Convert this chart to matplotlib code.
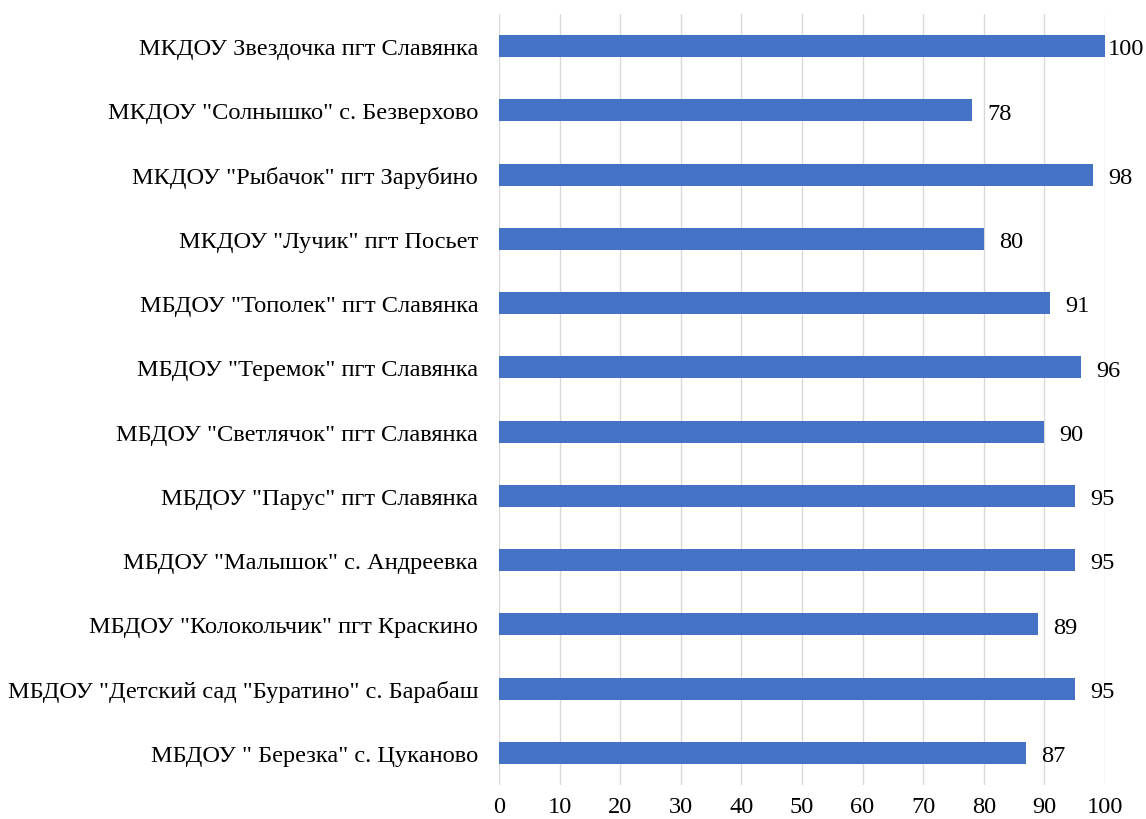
import matplotlib.pyplot as plt

labels = [
    'МКДОУ Звездочка пгт Славянка',
    'МКДОУ "Солнышко" с. Безверхово',
    'МКДОУ "Рыбачок" пгт Зарубино',
    'МКДОУ "Лучик" пгт Посьет',
    'МБДОУ "Тополек" пгт Славянка',
    'МБДОУ "Теремок" пгт Славянка',
    'МБДОУ "Светлячок" пгт Славянка',
    'МБДОУ "Парус" пгт Славянка',
    'МБДОУ "Малышок" с. Андреевка',
    'МБДОУ "Колокольчик" пгт Краскино',
    'МБДОУ "Детский сад "Буратино" с. Барабаш',
    'МБДОУ " Березка" с. Цуканово',
]
values = [100, 78, 98, 80, 91, 96, 90, 95, 95, 89, 95, 87]
xticks = list(range(0, 101, 10))

plt.rcParams['font.family'] = ['Liberation Serif', 'DejaVu Serif']

fig = plt.figure(figsize=(11.46, 8.2), dpi=100)
ax = fig.add_axes([499 / 1146, 1 - 786 / 820, 606 / 1146, 771 / 820])

ypos = list(range(len(labels)))
ax.barh(ypos, values, height=0.34, color='#4472C4', zorder=3)
ax.set_ylim(len(labels) - 0.5, -0.5)
ax.set_xlim(0, 100)
ax.set_yticks(ypos)
ax.set_yticklabels(labels, fontsize=17.6, color='#000000')
ax.set_xticks(xticks)
ax.set_xticklabels([str(t) for t in xticks], fontsize=17.6)
ax.tick_params(axis='both', length=0)
ax.tick_params(axis='y', pad=15)
ax.tick_params(axis='x', pad=8)
ax.grid(axis='x', color='#D9D9D9', linewidth=1, zorder=0)
for s in ax.spines.values():
    s.set_visible(False)

for y, v in zip(ypos, values):
    off = 2 if v >= 100 else 11
    ax.annotate(str(v), (v, y), xytext=(off, -2), textcoords='offset points',
                va='center', ha='left', fontsize=17.6, clip_on=False)

fig.savefig('out.png', dpi=100)
